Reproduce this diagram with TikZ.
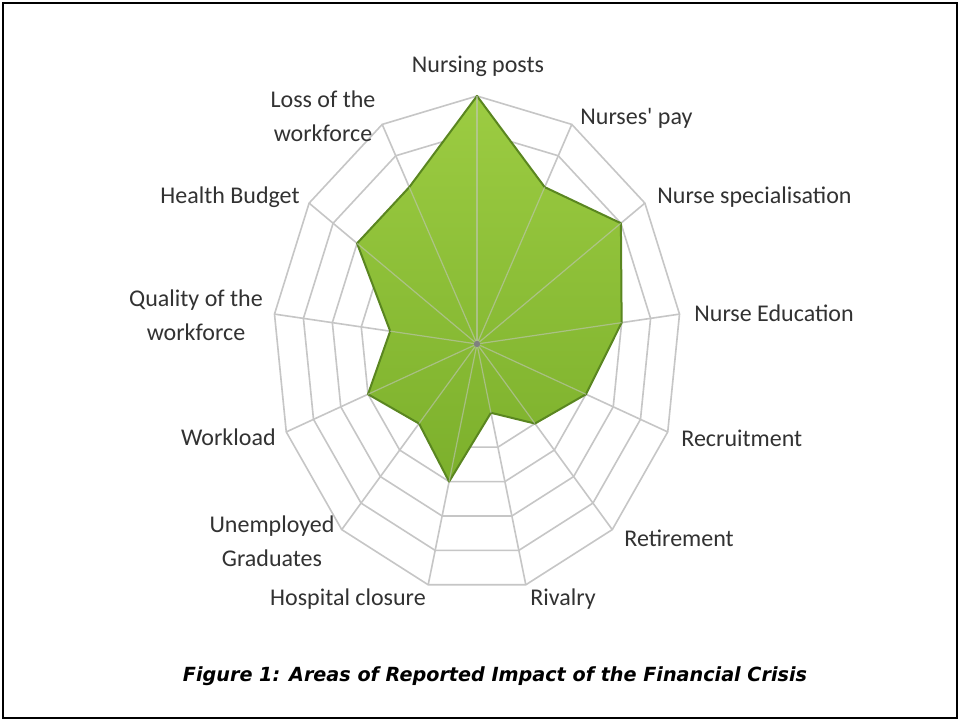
\documentclass[tikz,border=0pt]{standalone}
\usepackage{fontspec}
\usepackage{graphicx}
\newfontfamily\labfont{Carlito}
\newfontfamily\capfont{DejaVu Sans}
\definecolor{labgray}{RGB}{50,50,50}
\definecolor{gridgray}{RGB}{198,198,198}
\definecolor{greentop}{RGB}{156,204,66}
\definecolor{greenbot}{RGB}{124,176,44}
\definecolor{greenedge}{RGB}{90,134,32}
\begin{document}
\begin{tikzpicture}[x=0.5pt,y=-0.5pt,
  lab/.style={font=\labfont\fontsize{12}{17}\selectfont, text=labgray, inner sep=0pt, align=center},
  gridline/.style={draw=gridgray, line width=0.8pt},
  spokeover/.style={draw=white!55!gray, opacity=0.55, line width=0.6pt},
  frameline/.style={draw=black, line width=1pt}]
\useasboundingbox (0,0) rectangle (960,721);
\fill[white] (0,0) rectangle (960,721);
\draw[frameline] (3,3) rectangle (957,718);

\coordinate (C) at (477,344);
\foreach \i in {0,...,12}{
  \pgfmathsetmacro{\a}{\i*360/13}
  \foreach \k in {1,...,7}{
    \coordinate (r\k-\i) at ({477+204*\k/7*sin(\a)},{344-248*\k/7*cos(\a)});
  }
}
% rings
\foreach \k in {1,...,7}{
  \draw[gridline] (r\k-0) \foreach \i in {1,...,12}{ -- (r\k-\i)} -- cycle;
}
% spokes
\foreach \i in {0,...,12}{
  \draw[gridline] (C) -- (r7-\i);
}
% data
\foreach \v [count=\n from 0] in {7,5,6,5,4,3,2,4,3,4,3,5,5}{
  \pgfmathsetmacro{\a}{\n*360/13}
  \coordinate (p\n) at ({477+204*\v/7*sin(\a)},{344-248*\v/7*cos(\a)});
}
\shade[top color=greentop, bottom color=greenbot, draw=greenedge, line width=1pt, line join=round]
  (p0) \foreach \i in {1,...,12}{ -- (p\i)} -- cycle;
\foreach \i in {0,...,12}{
  \draw[spokeover] (C) -- (p\i);
}
\fill[gray] (C) circle (1.6pt);

% labels
\node[lab] (l0) at (478,66) {Nursing posts};
\node[lab, anchor=west] (l1) at (580,118) {Nurses' pay};
\node[lab, anchor=west] (l2) at (657,197) {Nurse specialisation};
\node[lab, anchor=west] (l3) at (694,313) {Nurse Education};
\node[lab, anchor=west] (l4) at (681,438) {Recruitment};
\node[lab, anchor=west] (l5) at (624,538) {Retirement};
\node[lab, anchor=west] (l6) at (530,599) {Rivalry};
\node[lab] (l7) at (348,599) {Hospital closure};
\node[lab] (l8) at (272,541) {Unemployed\\Graduates};
\node[lab, anchor=east] (l9) at (276,437) {Workload};
\node[lab] (l10) at (196,315) {Quality of the\\workforce};
\node[lab, anchor=east] (l11) at (300,197) {Health Budget};
\node[lab] (l12) at (323,116) {Loss of the\\workforce};

\node[inner sep=0pt] (cap) at (495,676) {\resizebox{312pt}{7.4pt}{\capfont\bfseries\itshape Figure 1: Areas of Reported Impact of the Financial Crisis}};
\end{tikzpicture}
\end{document}
